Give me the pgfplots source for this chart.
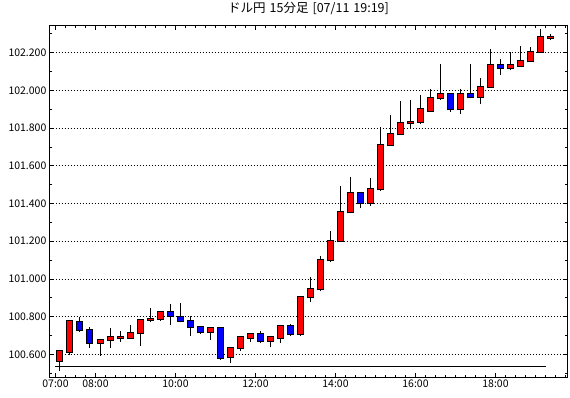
\documentclass[border=0pt]{standalone}
\usepackage{fontspec}
\setmainfont{Noto Sans CJK JP}
\usepackage{pgfplots}
\pgfplotsset{compat=1.18}
\usepackage{pgfplotstable}

% index o h l c  (up candles: close >= open)
\pgfplotstableread{
i o h l c
0 100.566 100.621 100.511 100.618
1 100.614 100.779 100.596 100.777
4 100.658 100.681 100.593 100.674
5 100.674 100.738 100.635 100.690
6 100.689 100.724 100.667 100.690
7 100.688 100.755 100.685 100.711
8 100.711 100.786 100.646 100.780
9 100.780 100.844 100.770 100.787
10 100.787 100.829 100.777 100.823
15 100.717 100.742 100.676 100.738
17 100.584 100.634 100.556 100.632
18 100.632 100.692 100.618 100.690
19 100.688 100.708 100.667 100.706
21 100.672 100.692 100.637 100.690
22 100.688 100.751 100.662 100.749
24 100.706 100.908 100.697 100.906
25 100.902 101.008 100.879 100.946
26 100.945 101.120 100.934 101.099
27 101.099 101.254 101.091 101.201
28 101.199 101.493 101.197 101.353
29 101.353 101.542 101.350 101.454
31 101.401 101.535 101.388 101.475
32 101.475 101.804 101.468 101.710
33 101.709 101.870 101.707 101.767
34 101.767 101.944 101.765 101.825
35 101.827 101.949 101.799 101.830
36 101.831 101.976 101.822 101.900
37 101.891 102.006 101.889 101.958
38 101.958 102.140 101.947 101.979
40 101.900 102.006 101.873 101.979
42 101.963 102.067 101.926 102.017
43 102.017 102.220 102.015 102.133
45 102.120 102.202 102.110 102.133
46 102.131 102.236 102.126 102.156
47 102.154 102.230 102.152 102.202
48 102.202 102.326 102.200 102.282
49 102.280 102.298 102.266 102.281
}\uptable

% down candles: close < open
\pgfplotstableread{
i o h l c
2 100.770 100.800 100.717 100.727
3 100.727 100.743 100.635 100.658
11 100.823 100.865 100.755 100.802
12 100.800 100.871 100.770 100.777
13 100.777 100.805 100.699 100.743
14 100.743 100.748 100.706 100.717
16 100.738 100.746 100.571 100.579
20 100.706 100.724 100.662 100.672
23 100.749 100.759 100.699 100.706
30 101.454 101.461 101.378 101.401
39 101.979 101.983 101.887 101.900
41 101.979 102.138 101.958 101.963
44 102.133 102.167 102.083 102.120
}\downtable

\begin{document}
\begin{tikzpicture}
\path[use as bounding box] (-49.6pt,-20pt) rectangle (520.4pt,378pt);
\begin{axis}[
  at={(0pt,0pt)}, anchor=south west,
  scale only axis, width=517.9pt, height=352.5pt,
  xmin=6.8525, xmax=19.8, ymin=100.4743, ymax=102.3443,
  axis line style={line width=1pt, black},
  tick align=inside,
  xtick={7,8,10,12,14,16,18},
  xticklabels={07:00,08:00,10:00,12:00,14:00,16:00,18:00},
  minor xtick={7.25,7.5,...,19.75},
  ytick={100.6,100.8,101.0,101.2,101.4,101.6,101.8,102.0,102.2},
  yticklabels={100.600,100.800,101.000,101.200,101.400,101.600,101.800,102.000,102.200},
  minor ytick={100.5,100.7,100.9,101.1,101.3,101.5,101.7,101.9,102.1,102.3},
  major tick length=4.5pt, minor tick length=2.5pt,
  every tick/.style={black, line width=0.8pt},
  ymajorgrids,
  major grid style={black, line width=0.8pt, dash pattern=on 1pt off 2pt},
  tick label style={font=\fontsize{10.5}{12}\selectfont},
  xticklabel style={inner sep=2pt},
  yticklabel style={inner sep=3pt},
  title={ドル円\hspace{4pt}15分足\hspace{4pt}[07/11\hspace{4pt}19:19]},
  title style={at={(0.5,1)}, anchor=base, yshift=6.5pt, font=\fontsize{12.5}{14}\selectfont},
]
% reference line
\addplot[black, line width=1pt] coordinates {(7,100.534) (19.26,100.534)};

% wicks
\addplot[draw=none, mark=none, error bars/.cd, y dir=plus, y explicit, error mark=none,
  error bar style={draw=black, line width=1pt, solid}]
  table[x expr=7.1125+0.25*\thisrow{i}, y=l, y error plus expr=\thisrow{h}-\thisrow{l}] {\uptable};
\addplot[draw=none, mark=none, error bars/.cd, y dir=plus, y explicit, error mark=none,
  error bar style={draw=black, line width=1pt, solid}]
  table[x expr=7.1125+0.25*\thisrow{i}, y=l, y error plus expr=\thisrow{h}-\thisrow{l}] {\downtable};

% body outlines
\addplot[draw=none, mark=none, error bars/.cd, y dir=plus, y explicit, error mark=none,
  error bar style={draw=black, line width=7pt, solid}]
  table[x expr=7.1125+0.25*\thisrow{i}, y expr=\thisrow{o}-0.0055, y error plus expr=\thisrow{c}-\thisrow{o}+0.011] {\uptable};
\addplot[draw=none, mark=none, error bars/.cd, y dir=plus, y explicit, error mark=none,
  error bar style={draw=black, line width=7pt, solid}]
  table[x expr=7.1125+0.25*\thisrow{i}, y expr=\thisrow{c}-0.0055, y error plus expr=\thisrow{o}-\thisrow{c}+0.011] {\downtable};

% body fills
\addplot[draw=none, mark=none, error bars/.cd, y dir=plus, y explicit, error mark=none,
  error bar style={draw=red, line width=5pt, solid}]
  table[x expr=7.1125+0.25*\thisrow{i}, y=o, y error plus expr=\thisrow{c}-\thisrow{o}] {\uptable};
\addplot[draw=none, mark=none, error bars/.cd, y dir=plus, y explicit, error mark=none,
  error bar style={draw=blue, line width=5pt, solid}]
  table[x expr=7.1125+0.25*\thisrow{i}, y=c, y error plus expr=\thisrow{o}-\thisrow{c}] {\downtable};
\end{axis}
\end{tikzpicture}
\end{document}
